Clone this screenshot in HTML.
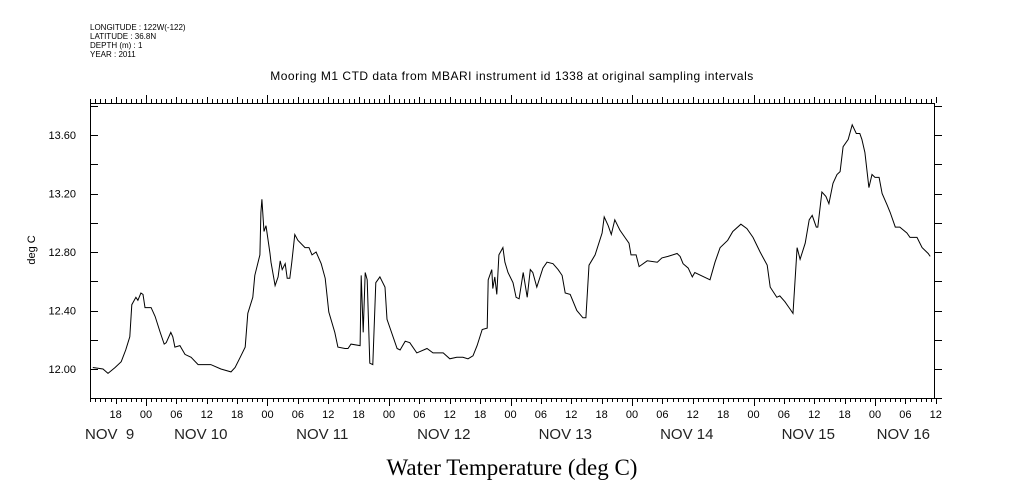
<!DOCTYPE html>
<html><head><meta charset="utf-8"><style>
html,body{margin:0;padding:0;background:#fff;}
svg{display:block;font-family:"Liberation Sans",sans-serif;}
</style></head><body>
<svg id="chart" width="1009" height="504" viewBox="0 0 1009 504">
<g font-size="8">
<text x="90" y="30">LONGITUDE : 122W(-122)</text>
<text x="90" y="39">LATITUDE : 36.8N</text>
<text x="90" y="48">DEPTH (m) : 1</text>
<text x="90" y="57">YEAR : 2011</text>
</g>
<text x="512" y="80" font-size="12" letter-spacing="0.5" text-anchor="middle">Mooring M1 CTD data from MBARI instrument id 1338 at original sampling intervals</text>
<text x="512" y="475" font-size="23" text-anchor="middle" font-family="Liberation Serif, serif">Water Temperature (deg C)</text>
<text transform="translate(35,250) rotate(-90)" font-size="11" text-anchor="middle">deg C</text>
<g id="axes"></g>
<g id="plot"></g>
</svg>
<script>
const hours = [13.5,15.5,16.5,17.9,19.1,20.0,20.8,21.2,22.0,22.4,23.0,23.4,23.8,25.0,25.8,26.8,27.6,28.0,28.9,29.3,29.7,30.7,31.7,32.9,34.3,36.8,38.8,40.8,41.6,42.6,43.6,44.1,45.1,45.5,46.5,46.7,46.9,47.3,47.7,48.5,48.7,49.5,50.1,50.5,50.9,51.5,51.9,52.4,52.8,53.4,54.0,55.4,56.2,56.8,57.6,58.6,59.4,60.1,61.3,61.9,63.3,63.9,64.5,66.3,66.5,66.9,67.3,67.7,68.2,68.8,69.4,70.2,71.2,71.6,73.6,74.2,75.2,76.1,77.5,79.5,80.7,82.7,84.0,85.4,86.6,87.6,88.6,89.4,90.4,91.4,91.6,92.3,92.5,92.9,93.3,93.7,94.5,94.9,95.5,96.5,97.1,97.7,98.5,99.3,99.9,100.4,101.2,102.4,103.2,104.4,105.4,106.2,106.8,107.8,109.1,110.3,110.9,111.5,112.7,114.1,114.5,115.3,115.9,116.6,117.6,118.6,119.4,119.8,120.8,121.4,123.0,125.0,125.9,127.1,128.9,129.5,130.1,131.1,131.9,132.4,135.4,136.4,137.4,138.9,139.9,141.5,142.7,143.9,145.3,146.7,147.3,148.6,149.2,150.2,151.2,151.8,152.6,153.2,154.2,155.0,155.6,156.4,156.7,157.5,158.3,158.9,159.7,160.5,161.1,161.7,162.7,163.5,164.3,165.0,165.4,166.0,166.8,167.4,168.0,168.8,169.4,170.4,171.0,172.0,172.9,174.3,174.9,176.3,177.3,178.5,178.9];
const temps = [12.01,12.00,11.97,12.01,12.05,12.13,12.22,12.44,12.49,12.47,12.52,12.51,12.42,12.42,12.36,12.25,12.17,12.18,12.25,12.22,12.15,12.16,12.10,12.08,12.03,12.03,12.00,11.98,12.01,12.08,12.15,12.38,12.49,12.64,12.78,13.07,13.16,12.94,12.98,12.79,12.73,12.57,12.63,12.74,12.68,12.72,12.62,12.62,12.73,12.92,12.88,12.83,12.83,12.78,12.80,12.72,12.62,12.39,12.25,12.15,12.14,12.14,12.17,12.16,12.64,12.25,12.66,12.61,12.04,12.03,12.59,12.63,12.56,12.34,12.14,12.13,12.19,12.18,12.11,12.14,12.11,12.11,12.07,12.08,12.08,12.07,12.09,12.16,12.27,12.28,12.61,12.68,12.55,12.63,12.51,12.78,12.83,12.73,12.66,12.59,12.49,12.48,12.66,12.49,12.68,12.66,12.56,12.69,12.73,12.72,12.68,12.64,12.52,12.51,12.40,12.35,12.35,12.71,12.78,12.93,13.04,12.98,12.92,13.02,12.95,12.90,12.86,12.78,12.78,12.70,12.74,12.73,12.76,12.77,12.79,12.77,12.72,12.69,12.63,12.66,12.61,12.73,12.83,12.88,12.94,12.99,12.96,12.90,12.80,12.71,12.56,12.49,12.50,12.46,12.41,12.38,12.83,12.75,12.86,13.02,13.05,12.97,12.97,13.21,13.18,13.13,13.27,13.33,13.35,13.52,13.57,13.67,13.61,13.61,13.57,13.48,13.24,13.33,13.31,13.31,13.20,13.12,13.07,12.97,12.97,12.93,12.90,12.90,12.83,12.79,12.77];
const yTickLabels = ["12.00","12.40","12.80","13.20","13.60"];
const hourLabels = ["00","06","12","18"];
const dayLabels = ["NOV  9","NOV 10","NOV 11","NOV 12","NOV 13","NOV 14","NOV 15","NOV 16"];

const L=90,R=934,T=103,B=398;
const hMin=12.94,hMax=179.65;
const xs=h=>L+(h-hMin)/(hMax-hMin)*(R-L);
const ys=v=>369-(v-12)*146.25;
const NS='http://www.w3.org/2000/svg';
function mk(tag,attrs,parent){const e=document.createElementNS(NS,tag);for(const k in attrs)e.setAttribute(k,attrs[k]);parent.appendChild(e);return e;}
const axes=document.getElementById('axes');
const plot=document.getElementById('plot');

let box=mk('rect',{x:L+0.5,y:T+0.5,width:R-L,height:B-T,fill:'none',stroke:'#000','stroke-width':1},axes);



for(let v=11.8;v<=13.801;v+=0.2){
  const y=Math.round(ys(v))+0.5;
  let t1=mk('line',{x1:L,x2:L+8,y1:y,y2:y,stroke:'#000'},axes);
  
  
  let t2=mk('line',{x1:R,x2:R+8,y1:y,y2:y,stroke:'#000'},axes);
  
  
}
yTickLabels.forEach(s=>{
  let t=mk('text',{x:76,y:ys(parseFloat(s))+4,'font-size':11,'text-anchor':'end'},axes);
  t.textContent=s;
  
  
});
for(let h=13;h<=180;h++){
  const x=Math.round(xs(h))+0.5;
  const big=h%24===0, mid=h%6===0;
  const len=big?8:(mid?6:4);
  let t=mk('line',{x1:x,x2:x,y1:B,y2:B+len,stroke:'#000'},axes);
  
  
  let t2=mk('line',{x1:x,x2:x,y1:T,y2:T-len,stroke:'#000'},axes);
  
  
  if(mid && h>=18){
    let lb=mk('text',{x:xs(h),y:418,'font-size':11,'text-anchor':'middle'},axes);
    lb.textContent=hourLabels[(h%24)/6];
    
    
  }
}
dayLabels.forEach((s,i)=>{
  let x=xs(i*24+12)-6, anchor='middle';
  if(i===0){x=85;anchor='start';}
  if(i===dayLabels.length-1){x=930;anchor='end';}
  let t=mk('text',{x:x,y:439,'font-size':15,'text-anchor':anchor,fill:'#222'},axes);
  t.setAttribute('style','white-space:pre');
  t.textContent=s;
  
  
});
const d=hours.map((h,i)=>(i?'L':'M')+xs(h).toFixed(1)+','+ys(temps[i]).toFixed(1)).join(' ');
let p=mk('path',{d:d,fill:'none',stroke:'#000','stroke-width':1},plot);


</script>
</body></html>
